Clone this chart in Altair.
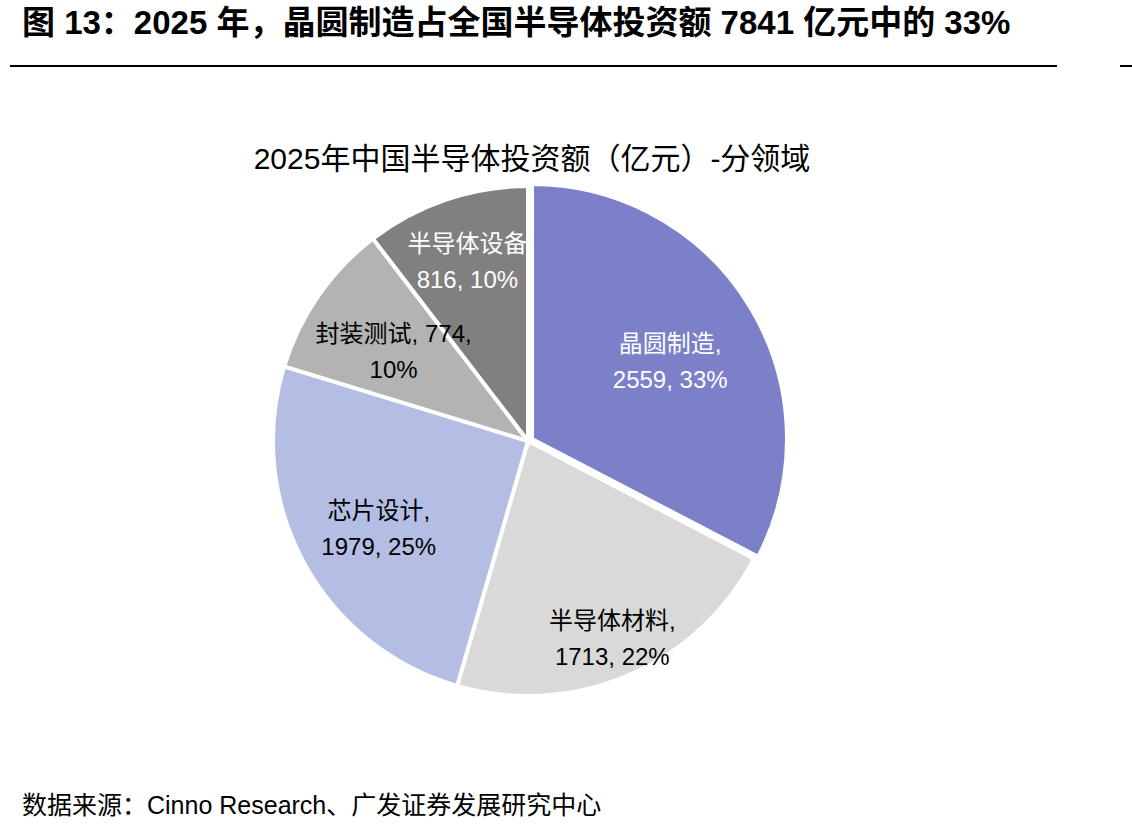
import altair as alt
import pandas as pd

# ---- data ----
categories = ["晶圆制造", "半导体材料", "芯片设计", "封装测试", "半导体设备"]
values = [2559, 1713, 1979, 774, 816]
label_lines = [
    "晶圆制造,\n2559, 33%",
    "半导体材料,\n1713, 22%",
    "芯片设计,\n1979, 25%",
    "封装测试, 774,\n10%",
    "半导体设备\n816, 10%",
]
main_title = "图 13：2025 年，晶圆制造占全国半导体投资额 7841 亿元中的 33%"
chart_title = "2025年中国半导体投资额（亿元）-分领域"
source_text = "数据来源：Cinno Research、广发证券发展研究中心"

# ---- styles ----
colors = ["#7B80C8", "#D9D9D9", "#B4BEE4", "#B3B3B3", "#808080"]
label_radius = [164, 209, 172, 166, 195]
white_labels = ["晶圆制造", "半导体设备"]
FONT = "Liberation Sans, Arial, Noto Sans CJK SC"
CX, CY, R = 528, 441, 255

df = pd.DataFrame({
    "cat": categories,
    "value": values,
    "order": list(range(len(categories))),
    "label": label_lines,
    "lr": label_radius,
})

base = (
    alt.Chart(df)
    .transform_window(cum="sum(value)", sort=[alt.SortField("order")])
    .transform_joinaggregate(total="sum(value)")
    .transform_calculate(
        a0="(datum.cum - datum.value) / datum.total * 2 * PI",
        a1="datum.cum / datum.total * 2 * PI",
        amid="(datum.cum - datum.value / 2) / datum.total * 2 * PI",
    )
)

color_enc = alt.Color("cat:N", scale=alt.Scale(domain=categories, range=colors), legend=None)

others = (
    base.transform_filter(alt.datum.cat != categories[0])
    .mark_arc(radius=R, stroke="white", strokeWidth=4)
    .encode(
        theta=alt.Theta("a0:Q", scale=None),
        theta2="a1:Q",
        color=color_enc,
        x=alt.value(CX),
        y=alt.value(CY),
    )
)

exploded = (
    base.transform_filter(alt.datum.cat == categories[0])
    .mark_arc(radius=R, stroke="white", strokeWidth=4)
    .encode(
        theta=alt.Theta("a0:Q", scale=None),
        theta2="a1:Q",
        color=color_enc,
        x=alt.value(CX + 4),
        y=alt.value(CY - 2),
    )
)

labels = (
    base.mark_text(lineBreak="\n", lineHeight=36, fontSize=24, font=FONT, dy=-11)
    .encode(
        theta=alt.Theta("amid:Q", scale=None),
        radius=alt.Radius("lr:Q", scale=None),
        text="label:N",
        color=alt.condition(
            alt.FieldOneOfPredicate(field="cat", oneOf=white_labels),
            alt.value("white"),
            alt.value("black"),
        ),
        x=alt.value(CX + 2),
        y=alt.value(CY),
    )
)

one = pd.DataFrame({"t": [main_title], "c": [chart_title], "s": [source_text]})

title_mark = alt.Chart(one).mark_text(
    align="left", baseline="middle", fontSize=33, fontWeight="bold", font=FONT, color="black"
).encode(text="t:N", x=alt.value(22), y=alt.value(24))

chart_title_mark = alt.Chart(one).mark_text(
    align="center", baseline="middle", fontSize=30, font=FONT, color="black"
).encode(text="c:N", x=alt.value(532), y=alt.value(160))

source_mark = alt.Chart(one).mark_text(
    align="left", baseline="middle", fontSize=25, font=FONT, color="black"
).encode(text="s:N", x=alt.value(22), y=alt.value(806))

rule1 = alt.Chart(one).mark_rule(color="black", strokeWidth=2).encode(
    x=alt.value(10), x2=alt.value(1057), y=alt.value(66)
)
rule2 = alt.Chart(one).mark_rule(color="black", strokeWidth=2).encode(
    x=alt.value(1120), x2=alt.value(1132), y=alt.value(66)
)

chart = (
    alt.layer(others, exploded, labels, title_mark, chart_title_mark, source_mark, rule1, rule2)
    .properties(width=1132, height=836, padding=0, autosize=alt.AutoSizeParams(type="none"),
                background="white")
    .configure_view(stroke=None)
)

chart.save("out.html", embed_options={"renderer": "svg", "actions": False})
